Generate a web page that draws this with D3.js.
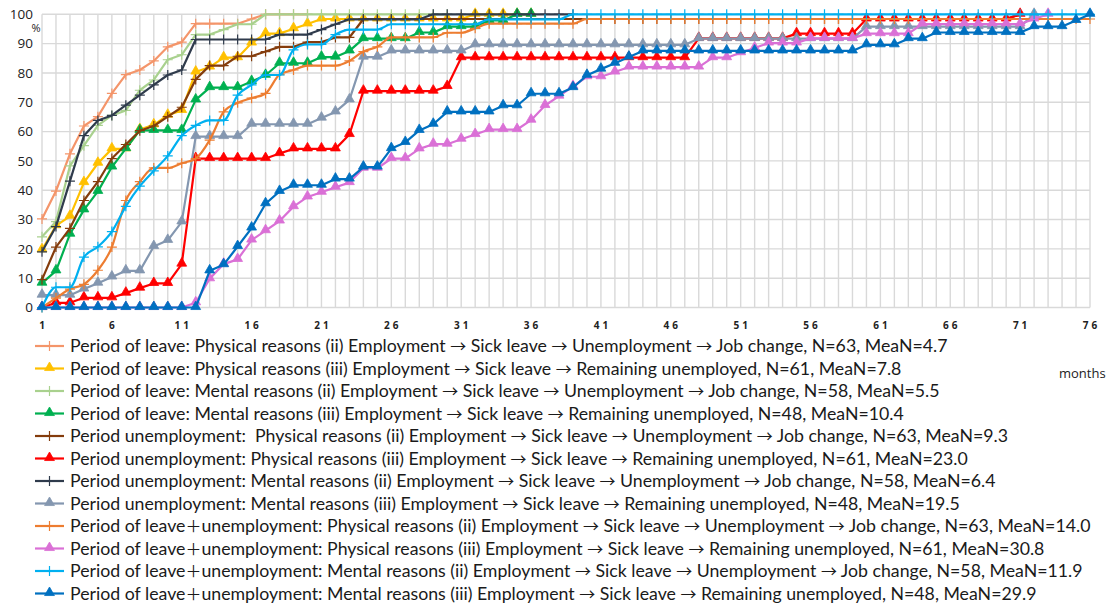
<!DOCTYPE html>
<html>
<head>
<meta charset="utf-8">
<script src="https://cdn.jsdelivr.net/npm/d3@7"></script>
<style>
  body { margin: 0; background: #fff; }
  svg text { font-family: "Open Sans", "Noto Sans", sans-serif; fill: #222; }
  svg text.leg { font-family: Lato, "Noto Sans", sans-serif; fill: #1a1a1a; }
  svg tspan.sym { font-family: "Noto Sans CJK JP", "DejaVu Sans", sans-serif; font-size: 0.9em; }
</style>
</head>
<body>
<script>
// months on the x axis, percent on the y axis
const months = d3.range(1, 77);
const xTickLabels = [1, 6, 11, 16, 21, 26, 31, 36, 41, 46, 51, 56, 61, 66, 71, 76];
const yTickLabels = [0, 10, 20, 30, 40, 50, 60, 70, 80, 90, 100];

// cumulative % per month (month 1 first)
const leavePhysicalJob = [30.2, 39.7, 52.4, 61.9, 65.1, 73.0, 79.4, 81.0, 84.1, 88.9, 90.5, 96.8, 96.8, 96.8, 96.8, 98.4, 100, 100, 100, 100];
const leavePhysicalRemain = [19.7, 27.9, 31.1, 42.6, 49.2, 54.1, 54.1, 60.7, 62.3, 65.6, 67.2, 80.3, 82.0, 85.2, 85.2, 90.2, 93.4, 93.4, 95.1, 96.7,
  98.4, 98.4, 98.4, 98.4, 98.4, 98.4, 98.4, 98.4, 98.4, 98.4, 98.4, 100, 100, 100, 100, 100];
const leaveMentalJob = [24.1, 29.3, 48.3, 55.2, 62.1, 65.5, 67.2, 74.1, 77.6, 84.5, 86.2, 93.1, 93.1, 94.8, 96.6, 96.6, 100, 100, 100, 100,
  100, 100, 100, 100, 100, 100, 100, 100, 100, 100];
const leaveMentalRemain = [8.3, 12.5, 25.0, 33.3, 39.6, 47.9, 54.2, 60.4, 60.4, 60.4, 60.4, 70.8, 75.0, 75.0, 75.0, 77.1, 79.2, 83.3, 83.3, 83.3,
  85.4, 85.4, 87.5, 91.7, 91.7, 91.7, 91.7, 93.8, 93.8, 95.8, 95.8, 95.8, 97.9, 97.9, 100, 100];
const unempPhysicalJob = [9.5, 20.6, 27.0, 36.5, 42.9, 50.8, 55.6, 60.3, 61.9, 65.1, 68.3, 77.8, 82.5, 82.5, 85.7, 85.7, 87.3, 88.9, 88.9, 90.5,
  90.5, 92.1, 92.1, 98.4, 98.4, 98.4, 98.4, 98.4, 98.4, 98.4, 98.4, 98.4, 98.4, 98.4, 98.4, 98.4, 98.4, 98.4, 98.4, 98.4,
  98.4, 98.4, 98.4, 98.4, 98.4, 98.4, 98.4, 98.4, 98.4, 98.4, 98.4, 98.4, 98.4, 98.4, 98.4, 98.4, 98.4, 98.4, 98.4, 98.4,
  98.4, 98.4, 98.4, 98.4, 98.4, 98.4, 98.4, 98.4, 98.4, 98.4, 100];
const unempPhysicalRemain = [0, 1.6, 1.6, 3.3, 3.3, 3.3, 4.9, 6.6, 8.2, 8.2, 14.8, 50.8, 50.8, 50.8, 50.8, 50.8, 50.8, 52.5, 54.1, 54.1,
  54.1, 54.1, 59.0, 73.8, 73.8, 73.8, 73.8, 73.8, 73.8, 75.4, 85.2, 85.2, 85.2, 85.2, 85.2, 85.2, 85.2, 85.2, 85.2, 85.2,
  85.2, 85.2, 85.2, 85.2, 85.2, 85.2, 85.2, 91.8, 91.8, 91.8, 91.8, 91.8, 91.8, 91.8, 93.4, 93.4, 93.4, 93.4, 93.4, 98.4,
  98.4, 98.4, 98.4, 98.4, 98.4, 98.4, 98.4, 98.4, 98.4, 98.4, 100];
const unempMentalJob = [19.0, 27.6, 43.1, 58.6, 63.8, 65.5, 69.0, 72.4, 75.9, 79.3, 81.0, 91.4, 91.4, 91.4, 91.4, 91.4, 91.4, 93.1, 93.1, 93.1,
  94.8, 96.6, 98.3, 98.3, 98.3, 98.3, 98.3, 98.3, 100, 100, 100, 100, 100, 100, 100, 100, 100, 100, 100];
const unempMentalRemain = [4.2, 4.2, 4.2, 6.3, 8.3, 10.4, 12.5, 12.5, 20.8, 22.9, 29.2, 58.3, 58.3, 58.3, 58.3, 62.5, 62.5, 62.5, 62.5, 62.5,
  64.6, 66.7, 70.8, 85.4, 85.4, 87.5, 87.5, 87.5, 87.5, 87.5, 87.5, 89.6, 89.6, 89.6, 89.6, 89.6, 89.6, 89.6, 89.6, 89.6,
  89.6, 89.6, 89.6, 89.6, 89.6, 89.6, 89.6, 91.7, 91.7, 91.7, 91.7, 91.7, 91.7, 91.7, 91.7, 91.7, 91.7, 91.7, 91.7, 95.8,
  95.8, 95.8, 95.8, 95.8, 95.8, 95.8, 95.8, 95.8, 95.8, 95.8, 95.8, 100];
const leaveUnempPhysicalJob = [0, 3.2, 6.3, 7.9, 12.7, 20.6, 36.5, 42.9, 47.6, 47.6, 49.2, 50.8, 57.1, 66.7, 69.8, 71.4, 73.0, 79.4, 81.0, 82.5,
  82.5, 82.5, 84.1, 87.3, 88.9, 92.1, 92.1, 92.1, 92.1, 93.7, 93.7, 95.2, 96.8, 96.8, 96.8, 96.8, 96.8, 96.8, 96.8, 98.4,
  98.4, 98.4, 98.4, 98.4, 98.4, 98.4, 98.4, 98.4, 98.4, 98.4, 98.4, 98.4, 98.4, 98.4, 98.4, 98.4, 98.4, 98.4, 98.4, 98.4,
  98.4, 98.4, 98.4, 98.4, 98.4, 98.4, 98.4, 98.4, 98.4, 98.4, 98.4, 98.4, 98.4, 98.4, 98.4, 98.4];
const leaveUnempPhysicalRemain = [0, 0, 0, 0, 0, 0, 0, 0, 0, 0, 0, 1.6, 9.8, 14.8, 16.4, 23.0, 26.2, 29.5, 34.4, 37.7,
  39.3, 41.0, 42.6, 47.5, 47.5, 50.8, 50.8, 54.1, 55.7, 55.7, 57.4, 59.0, 60.7, 60.7, 60.7, 63.9, 68.9, 72.1, 75.4, 78.7,
  78.7, 80.3, 82.0, 82.0, 82.0, 82.0, 82.0, 82.0, 85.2, 85.2, 86.9, 88.5, 90.2, 90.2, 90.2, 91.8, 91.8, 91.8, 91.8, 93.4,
  93.4, 93.4, 93.4, 96.7, 96.7, 96.7, 96.7, 96.7, 96.7, 96.7, 96.7, 98.4, 100];
const leaveUnempMentalJob = [0, 6.9, 6.9, 17.2, 20.7, 25.9, 34.5, 41.4, 46.6, 51.7, 58.6, 62.1, 63.8, 63.8, 72.4, 75.9, 79.3, 79.3, 87.9, 89.7,
  89.7, 93.1, 94.8, 94.8, 94.8, 96.6, 96.6, 96.6, 96.6, 96.6, 96.6, 96.6, 98.3, 98.3, 98.3, 98.3, 98.3, 98.3, 100, 100,
  100, 100, 100, 100, 100, 100, 100, 100, 100, 100, 100, 100, 100, 100, 100, 100, 100, 100, 100, 100,
  100, 100, 100, 100, 100, 100, 100, 100, 100, 100, 100, 100, 100, 100, 100, 100];
const leaveUnempMentalRemain = [0, 0, 0, 0, 0, 0, 0, 0, 0, 0, 0, 0, 12.5, 14.6, 20.8, 27.1, 35.4, 39.6, 41.7, 41.7,
  41.7, 43.8, 43.8, 47.9, 47.9, 54.2, 56.3, 60.4, 62.5, 66.7, 66.7, 66.7, 66.7, 68.8, 68.8, 72.9, 72.9, 72.9, 75.0, 79.2,
  81.3, 83.3, 85.4, 87.5, 87.5, 87.5, 87.5, 87.5, 87.5, 87.5, 87.5, 87.5, 87.5, 87.5, 87.5, 87.5, 87.5, 87.5, 87.5, 89.6,
  89.6, 89.6, 91.7, 91.7, 93.8, 93.8, 93.8, 93.8, 93.8, 93.8, 93.8, 95.8, 95.8, 95.8, 97.9, 100];

const seriesNames = [
  "Period of leave: Physical reasons (ii) Employment \u2192 Sick leave \u2192 Unemployment \u2192 Job change, N=63, MeaN=4.7",
  "Period of leave: Physical reasons (iii) Employment \u2192 Sick leave \u2192 Remaining unemployed, N=61, MeaN=7.8",
  "Period of leave: Mental reasons (ii) Employment \u2192 Sick leave \u2192 Unemployment \u2192 Job change, N=58, MeaN=5.5",
  "Period of leave: Mental reasons (iii) Employment \u2192 Sick leave \u2192 Remaining unemployed, N=48, MeaN=10.4",
  "Period unemployment:\u00a0 Physical reasons (ii) Employment \u2192 Sick leave \u2192 Unemployment \u2192 Job change, N=63, MeaN=9.3",
  "Period unemployment: Physical reasons (iii) Employment \u2192 Sick leave \u2192 Remaining unemployed, N=61, MeaN=23.0",
  "Period unemployment: Mental reasons (ii) Employment \u2192 Sick leave \u2192 Unemployment \u2192 Job change, N=58, MeaN=6.4",
  "Period unemployment: Mental reasons (iii) Employment \u2192 Sick leave \u2192 Remaining unemployed, N=48, MeaN=19.5",
  "Period of leave\uff0bunemployment: Physical reasons (ii) Employment \u2192 Sick leave \u2192 Unemployment \u2192 Job change, N=63, MeaN=14.0",
  "Period of leave\uff0bunemployment: Physical reasons (iii) Employment \u2192 Sick leave \u2192 Remaining unemployed, N=61, MeaN=30.8",
  "Period of leave\uff0bunemployment: Mental reasons (ii) Employment \u2192 Sick leave \u2192 Unemployment \u2192 Job change, N=58, MeaN=11.9",
  "Period of leave\uff0bunemployment: Mental reasons (iii) Employment \u2192 Sick leave \u2192 Remaining unemployed, N=48, MeaN=29.9"
];
const seriesValues = [leavePhysicalJob, leavePhysicalRemain, leaveMentalJob, leaveMentalRemain,
  unempPhysicalJob, unempPhysicalRemain, unempMentalJob, unempMentalRemain,
  leaveUnempPhysicalJob, leaveUnempPhysicalRemain, leaveUnempMentalJob, leaveUnempMentalRemain];

// styles
const seriesColors = ["#F4956A", "#FFC000", "#A9D18E", "#00B050", "#843C0C", "#FF0000",
  "#2F3B4C", "#8497B0", "#ED7D31", "#DA70D6", "#00B0F0", "#0070C0"];
const seriesMarkers = ["plus", "tri", "plus", "tri", "plus", "tri", "plus", "tri", "plus", "tri", "plus", "tri"];
const seriesSmooth = [false, false, false, false, false, false, false, false, true, false, true, false];

const W = 1119, H = 605;
const svg = d3.select("body").append("svg").attr("width", W).attr("height", H);

const x = d3.scaleLinear().domain([1, 76]).range([42, 1090]);
const y = d3.scaleLinear().domain([0, 100]).range([307.5, 14.3]);

// grid
const grid = svg.append("g");
grid.selectAll("line.v").data(months).enter().append("line")
  .attr("x1", d => x(d)).attr("x2", d => x(d))
  .attr("y1", y(100)).attr("y2", y(0))
  .attr("stroke", "#D9D9D9").attr("stroke-width", 1.4);
grid.selectAll("line.h").data(yTickLabels).enter().append("line")
  .attr("x1", x(1)).attr("x2", x(76))
  .attr("y1", d => y(d)).attr("y2", d => y(d))
  .attr("stroke", "#D9D9D9").attr("stroke-width", 1.4);

// y labels
svg.append("g").selectAll("text").data(yTickLabels).enter().append("text")
  .attr("x", 33).attr("y", d => y(d)).attr("dy", "0.35em")
  .attr("text-anchor", "end").style("font-size", "13.5px")
  .text(d => d);
svg.append("text").attr("x", 36).attr("y", 28).attr("dy", "0.35em")
  .attr("text-anchor", "middle").style("font-size", "11px").text("%");

// x labels
svg.append("g").selectAll("text").data(xTickLabels).enter().append("text")
  .attr("x", d => x(d) + 1.5).attr("y", 325).attr("dy", "0.35em")
  .attr("text-anchor", "middle")
  .style("font-size", "10px").style("font-weight", "bold").style("letter-spacing", "3px")
  .text(d => d);
svg.append("text").attr("x", 1059).attr("y", 373).attr("dy", "0.35em")
  .style("font-size", "13px").text("months");

const plusPath = "M-5,0H5M0,-5V5";
const triPath = d3.symbol(d3.symbolTriangle, 42)();

function drawMarker(sel, type, color) {
  if (type === "plus") {
    sel.append("path").attr("d", plusPath).attr("stroke", color).attr("stroke-width", 1.2).attr("fill", "none");
  } else {
    sel.append("path").attr("d", triPath).attr("fill", color).attr("stroke", color).attr("stroke-width", 0.8)
      .attr("transform", "translate(0,-0.8)");
  }
}

// series
seriesValues.forEach((vals, i) => {
  const pts = vals.map((v, j) => ({ m: j + 1, v: v }));
  const line = d3.line().x(d => x(d.m)).y(d => y(d.v))
    .curve(seriesSmooth[i] ? d3.curveMonotoneX : d3.curveLinear);
  const g = svg.append("g");
  g.append("path").datum(pts).attr("d", line)
    .attr("fill", "none").attr("stroke", seriesColors[i]).attr("stroke-width", 2.2)
    .attr("stroke-linejoin", "round");
  g.selectAll("g.mk").data(pts).enter().append("g")
    .attr("transform", d => `translate(${x(d.m)},${y(d.v)})`)
    .each(function () { drawMarker(d3.select(this), seriesMarkers[i], seriesColors[i]); });
});

// legend
const legend = svg.append("g");
const rowY = d3.scaleLinear().domain([0, 11]).range([346, 593.5]);
const rows = legend.selectAll("g").data(seriesNames).enter().append("g")
  .attr("transform", (d, i) => `translate(0,${rowY(i)})`);
rows.append("line").attr("x1", 35).attr("x2", 64).attr("y1", 0).attr("y2", 0)
  .attr("stroke", (d, i) => seriesColors[i]).attr("stroke-width", 2.2);
rows.each(function (d, i) {
  const m = d3.select(this).append("g").attr("transform", "translate(49.5,0)");
  drawMarker(m, seriesMarkers[i], seriesColors[i]);
});
const texts = rows.append("text").attr("class", "leg").attr("x", 70).attr("y", 0).attr("dy", "0.35em")
  .style("font-size", "16px");
// arrows and the wide plus come from the CJK font, as in the original
texts.each(function (d) {
  const t = d3.select(this);
  d.split(/([\u2192\uff0b])/).forEach(part => {
    if (!part) return;
    t.append("tspan").attr("class", /[\u2192\uff0b]/.test(part) ? "sym" : null).text(part);
  });
});

// fit legend font so the first row spans like the original
const w0 = texts.nodes()[0].getComputedTextLength();
const fs = 16 * 878 / w0;
texts.style("font-size", fs + "px");
</script>
</body>
</html>
